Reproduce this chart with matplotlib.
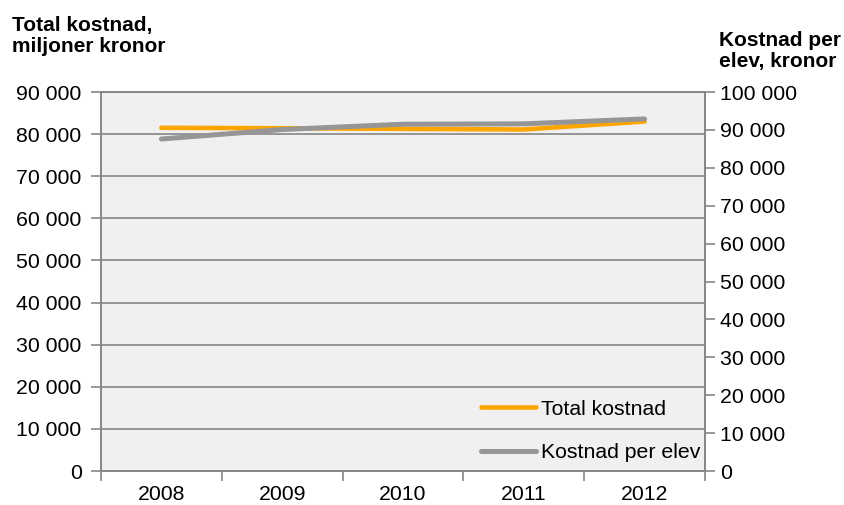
import numpy as np
import matplotlib
matplotlib.use("Agg")
import matplotlib.pyplot as plt
from matplotlib.ticker import FuncFormatter, MultipleLocator, FixedLocator

plt.rcParams['font.family'] = ['Liberation Sans', 'DejaVu Sans']

# data
years = ['2008', '2009', '2010', '2011', '2012']
total_kostnad = [81500, 81400, 81250, 81100, 83000]      # miljoner kronor (left axis)
kostnad_per_elev = [87600, 90100, 91500, 91600, 92900]   # kronor (right axis)

ORANGE = '#FFA500'
GREY = '#969696'
AXCOL = '#868686'
FS = 15.3


def space_fmt(v, pos):
    return '{:,.0f}'.format(v).replace(',', ' ')


def main():
    fig = plt.figure(figsize=(8.45, 5.05), dpi=100)
    ax = fig.add_axes([0.1195, 0.0673, 0.7148, 0.7505])
    ax.set_facecolor('#F0F0F0')
    x = np.arange(len(years))

    l1, = ax.plot(x, total_kostnad, color=ORANGE, lw=3.3, solid_capstyle='round',
                  label='Total kostnad', zorder=3)
    ax.set_ylim(0, 90000)
    ax.set_xlim(-0.5, len(years) - 0.5)
    ax.yaxis.set_major_locator(MultipleLocator(10000))
    ax.yaxis.set_major_formatter(FuncFormatter(space_fmt))
    ax.grid(axis='y', color=AXCOL, lw=1.2, zorder=1)
    ax.set_axisbelow(True)

    ax.set_xticks(x)
    ax.set_xticklabels(years)
    ax.xaxis.set_minor_locator(FixedLocator(np.arange(-0.5, len(years), 1.0)))
    ax.tick_params(axis='x', which='major', length=0, pad=10, labelsize=FS)
    ax.tick_params(axis='x', which='minor', length=7, color=AXCOL, width=1.2)
    ax.tick_params(axis='y', length=7, color=AXCOL, width=1.2, pad=7, labelsize=FS)
    for s in ax.spines.values():
        s.set_color(AXCOL)
        s.set_linewidth(1.2)

    ax2 = ax.twinx()
    l2, = ax2.plot(x, kostnad_per_elev, color=GREY, lw=3.6, solid_capstyle='round',
                   label='Kostnad per elev', zorder=3)
    ax2.set_ylim(0, 100000)
    ax2.yaxis.set_major_locator(MultipleLocator(10000))
    ax2.yaxis.set_major_formatter(FuncFormatter(space_fmt))
    ax2.tick_params(axis='y', length=7, color=AXCOL, width=1.2, pad=4, labelsize=FS)
    for s in ax2.spines.values():
        s.set_color(AXCOL)
        s.set_linewidth(1.2)

    ax2.legend(handles=[l1, l2], loc='lower right', bbox_to_anchor=(1.02, -0.021),
               frameon=False, fontsize=FS, handlelength=2.6, handletextpad=0.2,
               labelspacing=1.14, borderpad=0.3)

    fig.text(0.014, 0.968, 'Total kostnad,\nmiljoner kronor', fontsize=15,
             fontweight='bold', va='top', ha='left', linespacing=1.1)
    fig.text(0.851, 0.938, 'Kostnad per\nelev, kronor', fontsize=15,
             fontweight='bold', va='top', ha='left', linespacing=1.1)

    fig.savefig('out.png', dpi=100)


if __name__ == "__main__":
    main()
